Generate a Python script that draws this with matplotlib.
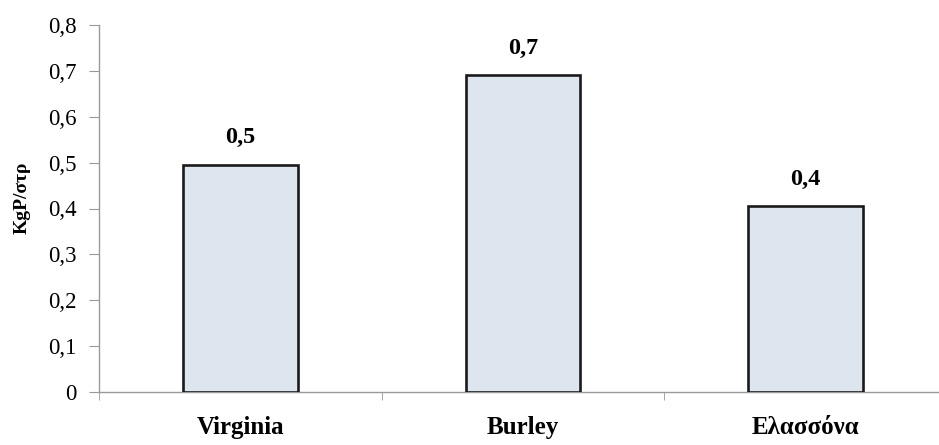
import matplotlib.pyplot as plt
import numpy as np

categories = ["Virginia", "Burley", "Ελασσόνα"]
values = [0.495, 0.69, 0.405]
labels = ["0,5", "0,7", "0,4"]
yticks = [0, 0.1, 0.2, 0.3, 0.4, 0.5, 0.6, 0.7, 0.8]
ytick_labels = ["0", "0,1", "0,2", "0,3", "0,4", "0,5", "0,6", "0,7", "0,8"]

plt.rcParams['font.family'] = ['Liberation Serif', 'DejaVu Serif']

fig = plt.figure(figsize=(9.39, 4.45), dpi=100)
ax = fig.add_axes([99/939, 53/445, 848/939, 367/445])

x = np.arange(len(categories))
ax.bar(x, values, width=0.405, color="#dde5ef", edgecolor="#1a1a1a", linewidth=1.9, zorder=3)

for xi, v, lab in zip(x, values, labels):
    ax.annotate(lab, (xi, v), xytext=(0, 12), textcoords="offset points",
                ha="center", va="bottom", fontsize=17.5, fontweight="bold")

ax.set_xlim(-0.5, 2.5)
ax.set_ylim(0, 0.8)
ax.set_yticks(yticks)
ax.set_yticklabels(ytick_labels, fontsize=16.5)
ax.set_xticks(x)
ax.set_xticklabels(categories, fontsize=18, fontweight="bold")
ax.set_xticks([-0.5, 0.5, 1.5], minor=True)
ax.tick_params(axis="x", which="major", length=0, pad=17)
ax.tick_params(axis="x", which="minor", length=6, color="#999999")
ax.tick_params(axis="y", length=7, color="#999999", pad=9)

ax.set_ylabel("KgP/στρ", fontsize=14, fontweight="bold")
ax.yaxis.set_label_coords(-0.081, 0.53)

for s in ["top", "right"]:
    ax.spines[s].set_visible(False)
for s in ["left", "bottom"]:
    ax.spines[s].set_color("#999999")
    ax.spines[s].set_linewidth(1.0)

fig.savefig("out.png", dpi=100)
